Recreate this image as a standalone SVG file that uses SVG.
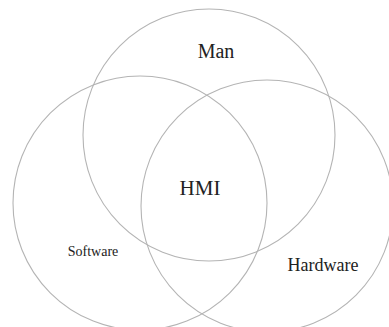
<svg xmlns="http://www.w3.org/2000/svg" width="389" height="327" viewBox="0 0 389 327">
<style>
.c{fill:none;stroke:#b4b4b4;stroke-width:1.1}
.t{font-family:"Liberation Serif","Times New Roman",serif;fill:#222;text-anchor:middle}
</style>
<rect width="389" height="327" fill="#fff"/>
<g id="man"><circle class="c" cx="209" cy="135" r="126"/><text class="t" x="216" y="58" font-size="20">Man</text></g>
<g id="software"><circle class="c" cx="140" cy="203" r="127"/><text class="t" x="93" y="256" font-size="14">Software</text></g>
<g id="hardware"><circle class="c" cx="267" cy="206" r="126"/><text class="t" x="323" y="271" font-size="18">Hardware</text></g>
<g id="hmi"><text class="t" x="200" y="195" font-size="21">HMI</text></g>
</svg>
